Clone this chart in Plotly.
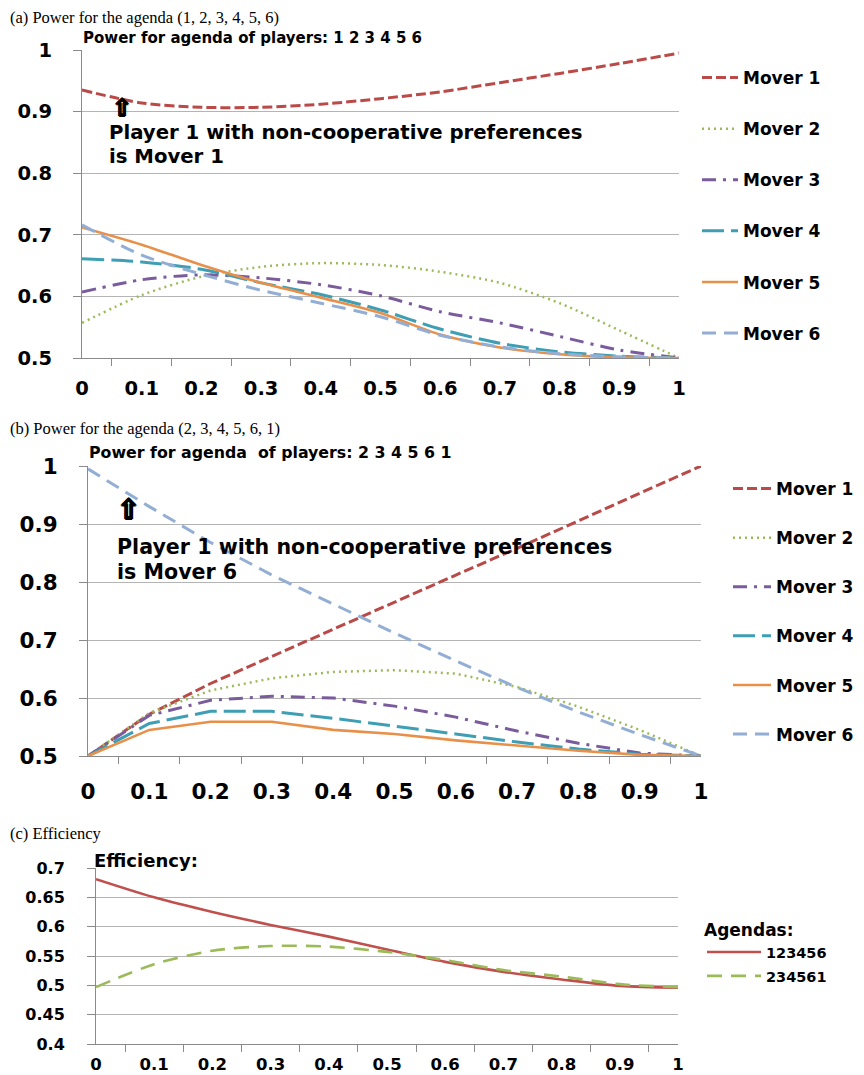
import plotly.graph_objects as go

# ---------------- data ----------------
x_labels = ["0", "0.1", "0.2", "0.3", "0.4", "0.5", "0.6", "0.7", "0.8", "0.9", "1"]
mover_names = ["Mover 1", "Mover 2", "Mover 3", "Mover 4", "Mover 5", "Mover 6"]

# (a) agenda 1 2 3 4 5 6
a_mover1 = [0.935, 0.914, 0.907, 0.907, 0.912, 0.921, 0.932, 0.947, 0.962, 0.978, 0.995]
a_mover2 = [0.557, 0.602, 0.632, 0.648, 0.654, 0.651, 0.640, 0.622, 0.589, 0.545, 0.500]
a_mover3 = [0.607, 0.627, 0.635, 0.630, 0.619, 0.601, 0.575, 0.557, 0.535, 0.513, 0.500]
a_mover4 = [0.661, 0.656, 0.644, 0.622, 0.603, 0.578, 0.547, 0.524, 0.510, 0.503, 0.500]
a_mover5 = [0.712, 0.684, 0.651, 0.622, 0.598, 0.573, 0.538, 0.517, 0.506, 0.501, 0.500]
a_mover6 = [0.716, 0.667, 0.636, 0.610, 0.589, 0.567, 0.537, 0.518, 0.507, 0.502, 0.500]

# (b) agenda 2 3 4 5 6 1
b_mover1 = [0.500, 0.572, 0.625, 0.672, 0.718, 0.765, 0.812, 0.858, 0.906, 0.953, 1.000]
b_mover2 = [0.500, 0.574, 0.613, 0.634, 0.645, 0.648, 0.642, 0.619, 0.585, 0.545, 0.500]
b_mover3 = [0.500, 0.570, 0.596, 0.603, 0.600, 0.586, 0.567, 0.543, 0.522, 0.505, 0.500]
b_mover4 = [0.500, 0.556, 0.577, 0.577, 0.565, 0.552, 0.538, 0.524, 0.512, 0.503, 0.500]
b_mover5 = [0.500, 0.545, 0.559, 0.559, 0.545, 0.538, 0.527, 0.518, 0.509, 0.502, 0.500]
b_mover6 = [0.995, 0.930, 0.868, 0.812, 0.762, 0.712, 0.664, 0.618, 0.576, 0.537, 0.500]

# (c) efficiency
c_names = ["123456", "234561"]
c_eff_123456 = [0.681, 0.650, 0.625, 0.603, 0.583, 0.561, 0.540, 0.523, 0.510, 0.499, 0.496]
c_eff_234561 = [0.497, 0.536, 0.559, 0.567, 0.566, 0.557, 0.543, 0.526, 0.515, 0.502, 0.497]

a_yticks = [0.5, 0.6, 0.7, 0.8, 0.9, 1.0]
a_yticktext = ["0.5", "0.6", "0.7", "0.8", "0.9", "1"]
c_yticks = [0.4, 0.45, 0.5, 0.55, 0.6, 0.65, 0.7]
c_yticktext = ["0.4", "0.45", "0.5", "0.55", "0.6", "0.65", "0.7"]

# ---------------- styles ----------------
PAGE_MARGIN = 8          # default body margin of the html page
W, H = 864 - PAGE_MARGIN, 1075 - PAGE_MARGIN
mover_colors = ["#B94A48", "#9BBB59", "#7A5C9C", "#3E9EB4", "#E8904A", "#93AED4"]
mover_dashes = ["10px,4px", "2px,4px", "14px,7px,3px,7px", "22px,7px", "solid", "14px,8px"]
mover_widths = [3, 2.5, 3, 3, 2.6, 3]
c_colors = ["#C0504D", "#9BBB59"]
c_dashes = ["solid", "15px,9px"]

GRID = "#B4B4B4"
AXIS = "#8A8A8A"
BOLD = "DejaVu Sans"
SERIF = "Liberation Serif"
ARROW_SHADOW = "1px 0 0 #000, -1px 0 0 #000, 0 1px 0 #000, 0 -1px 0 #000"


def px_x(p):
    return (p - PAGE_MARGIN) / W


def px_y(p):
    return 1 - (p - PAGE_MARGIN) / H


fig = go.Figure()

a_series = [a_mover1, a_mover2, a_mover3, a_mover4, a_mover5, a_mover6]
b_series = [b_mover1, b_mover2, b_mover3, b_mover4, b_mover5, b_mover6]

for i, (name, ys) in enumerate(zip(mover_names, a_series)):
    fig.add_trace(go.Scatter(
        x=x_labels, y=ys, name=name, mode="lines", xaxis="x", yaxis="y",
        line=dict(color=mover_colors[i], dash=mover_dashes[i], width=mover_widths[i],
                  shape="spline", smoothing=0.8),
        legend="legend", legendgroup="a" + str(i)))

for i, (name, ys) in enumerate(zip(mover_names, b_series)):
    fig.add_trace(go.Scatter(
        x=x_labels, y=ys, name=name, mode="lines", xaxis="x2", yaxis="y2",
        line=dict(color=mover_colors[i], dash=mover_dashes[i], width=mover_widths[i]),
        legend="legend2", legendgroup="b" + str(i)))

for i, (name, ys) in enumerate(zip(c_names, [c_eff_123456, c_eff_234561])):
    fig.add_trace(go.Scatter(
        x=x_labels, y=ys, name=name, mode="lines", xaxis="x3", yaxis="y3",
        line=dict(color=c_colors[i], dash=c_dashes[i], width=2.6,
                  shape="spline", smoothing=0.8),
        legend="legend3", legendgroup="c" + str(i)))


def xaxis_cfg(domain, anchor, size, standoff):
    return dict(domain=domain, anchor=anchor, type="category",
                categoryorder="array", categoryarray=x_labels,
                tickson="boundaries", ticks="outside", ticklen=7, tickcolor=AXIS,
                showline=True, linecolor=AXIS, linewidth=1, showgrid=False,
                zeroline=False, fixedrange=True, ticklabelstandoff=standoff,
                automargin=False,
                tickfont=dict(family=BOLD, size=size, color="#000", weight="bold"))


def yaxis_cfg(domain, anchor, rng, tv, tt, size, standoff):
    return dict(domain=domain, anchor=anchor, range=rng, tickvals=tv, ticktext=tt,
                ticks="outside", ticklen=8, tickcolor=AXIS,
                showline=True, linecolor=AXIS, linewidth=1,
                showgrid=True, gridcolor=GRID, gridwidth=1, zeroline=False,
                ticklabelstandoff=standoff, automargin=False, fixedrange=True,
                tickfont=dict(family=BOLD, size=size, color="#000", weight="bold"))


fig.update_layout(
    width=W, height=H, autosize=False,
    margin=dict(l=0, r=0, t=0, b=0, autoexpand=False),
    paper_bgcolor="white", plot_bgcolor="white",
    xaxis=xaxis_cfg([px_x(82), px_x(679)], "y", 19.5, 13),
    yaxis=yaxis_cfg([px_y(358), px_y(50)], "x", [0.5, 1.0], a_yticks, a_yticktext, 19.5, 17),
    xaxis2=xaxis_cfg([px_x(88), px_x(701)], "y2", 21.5, 16),
    yaxis2=yaxis_cfg([px_y(756), px_y(466)], "x2", [0.5, 1.0], a_yticks, a_yticktext, 21.5, 17),
    xaxis3=xaxis_cfg([px_x(96), px_x(678)], "y3", 16.5, 5),
    yaxis3=yaxis_cfg([px_y(1044), px_y(868)], "x3", [0.4, 0.7], c_yticks, c_yticktext, 16, 19),
    legend=dict(x=px_x(697), y=px_y(60), xanchor="left", yanchor="top",
                traceorder="grouped", tracegroupgap=26, itemwidth=36,
                bgcolor="rgba(0,0,0,0)",
                font=dict(family=BOLD, size=17, color="#000", weight="bold")),
    legend2=dict(x=px_x(728), y=px_y(471), xanchor="left", yanchor="top",
                 traceorder="grouped", tracegroupgap=24, itemwidth=38,
                 bgcolor="rgba(0,0,0,0)",
                 font=dict(family=BOLD, size=17, color="#000", weight="bold")),
    legend3=dict(x=px_x(702), y=px_y(914), xanchor="left", yanchor="top",
                 traceorder="grouped", tracegroupgap=2, itemwidth=54,
                 bgcolor="rgba(0,0,0,0)",
                 title=dict(text="Agendas:", side="top",
                            font=dict(family=BOLD, size=17, color="#000", weight="bold")),
                 font=dict(family=BOLD, size=14.5, color="#000", weight="bold")),
    showlegend=True,
)

annots = [
    # panel titles (serif)
    dict(text="(a) Power for the agenda (1, 2, 3, 4, 5, 6)", x=px_x(8), y=px_y(18),
         font=dict(family=SERIF, size=16.5, color="#000")),
    dict(text="(b) Power for the agenda (2, 3, 4, 5, 6, 1)", x=px_x(8), y=px_y(428),
         font=dict(family=SERIF, size=16.5, color="#000")),
    dict(text="(c) Efficiency", x=px_x(8), y=px_y(833),
         font=dict(family=SERIF, size=16.5, color="#000")),
    # chart titles
    dict(text="Power for agenda of players: 1 2 3 4 5 6", x=px_x(81), y=px_y(38),
         font=dict(family=BOLD, size=15, color="#000", weight="bold")),
    dict(text="Power for agenda  of players: 2 3 4 5 6 1", x=px_x(87), y=px_y(452),
         font=dict(family=BOLD, size=15.8, color="#000", weight="bold")),
    dict(text="Efficiency:", x=px_x(92), y=px_y(860),
         font=dict(family=BOLD, size=18, color="#000", weight="bold")),
    # notes
    dict(text="Player 1 with non-cooperative preferences", x=px_x(107), y=px_y(133),
         font=dict(family=BOLD, size=19.7, color="#000", weight="bold")),
    dict(text="is Mover 1", x=px_x(107), y=px_y(156),
         font=dict(family=BOLD, size=19.7, color="#000", weight="bold")),
    dict(text="Player 1 with non-cooperative preferences", x=px_x(115), y=px_y(547),
         font=dict(family=BOLD, size=20.6, color="#000", weight="bold")),
    dict(text="is Mover 6", x=px_x(115), y=px_y(572),
         font=dict(family=BOLD, size=20.6, color="#000", weight="bold")),
    # arrows
    dict(text="⇧", x=px_x(110), y=px_y(108),
         font=dict(family="DejaVu Sans", size=24, color="#000", weight="bold",
                   shadow=ARROW_SHADOW)),
    dict(text="⇧", x=px_x(115), y=px_y(510),
         font=dict(family="DejaVu Sans", size=28, color="#000", weight="bold",
                   shadow=ARROW_SHADOW)),
]
for a in annots:
    a.update(xref="paper", yref="paper", xanchor="left", yanchor="middle", showarrow=False)
fig.update_layout(annotations=annots)

fig.write_html("out.html")
